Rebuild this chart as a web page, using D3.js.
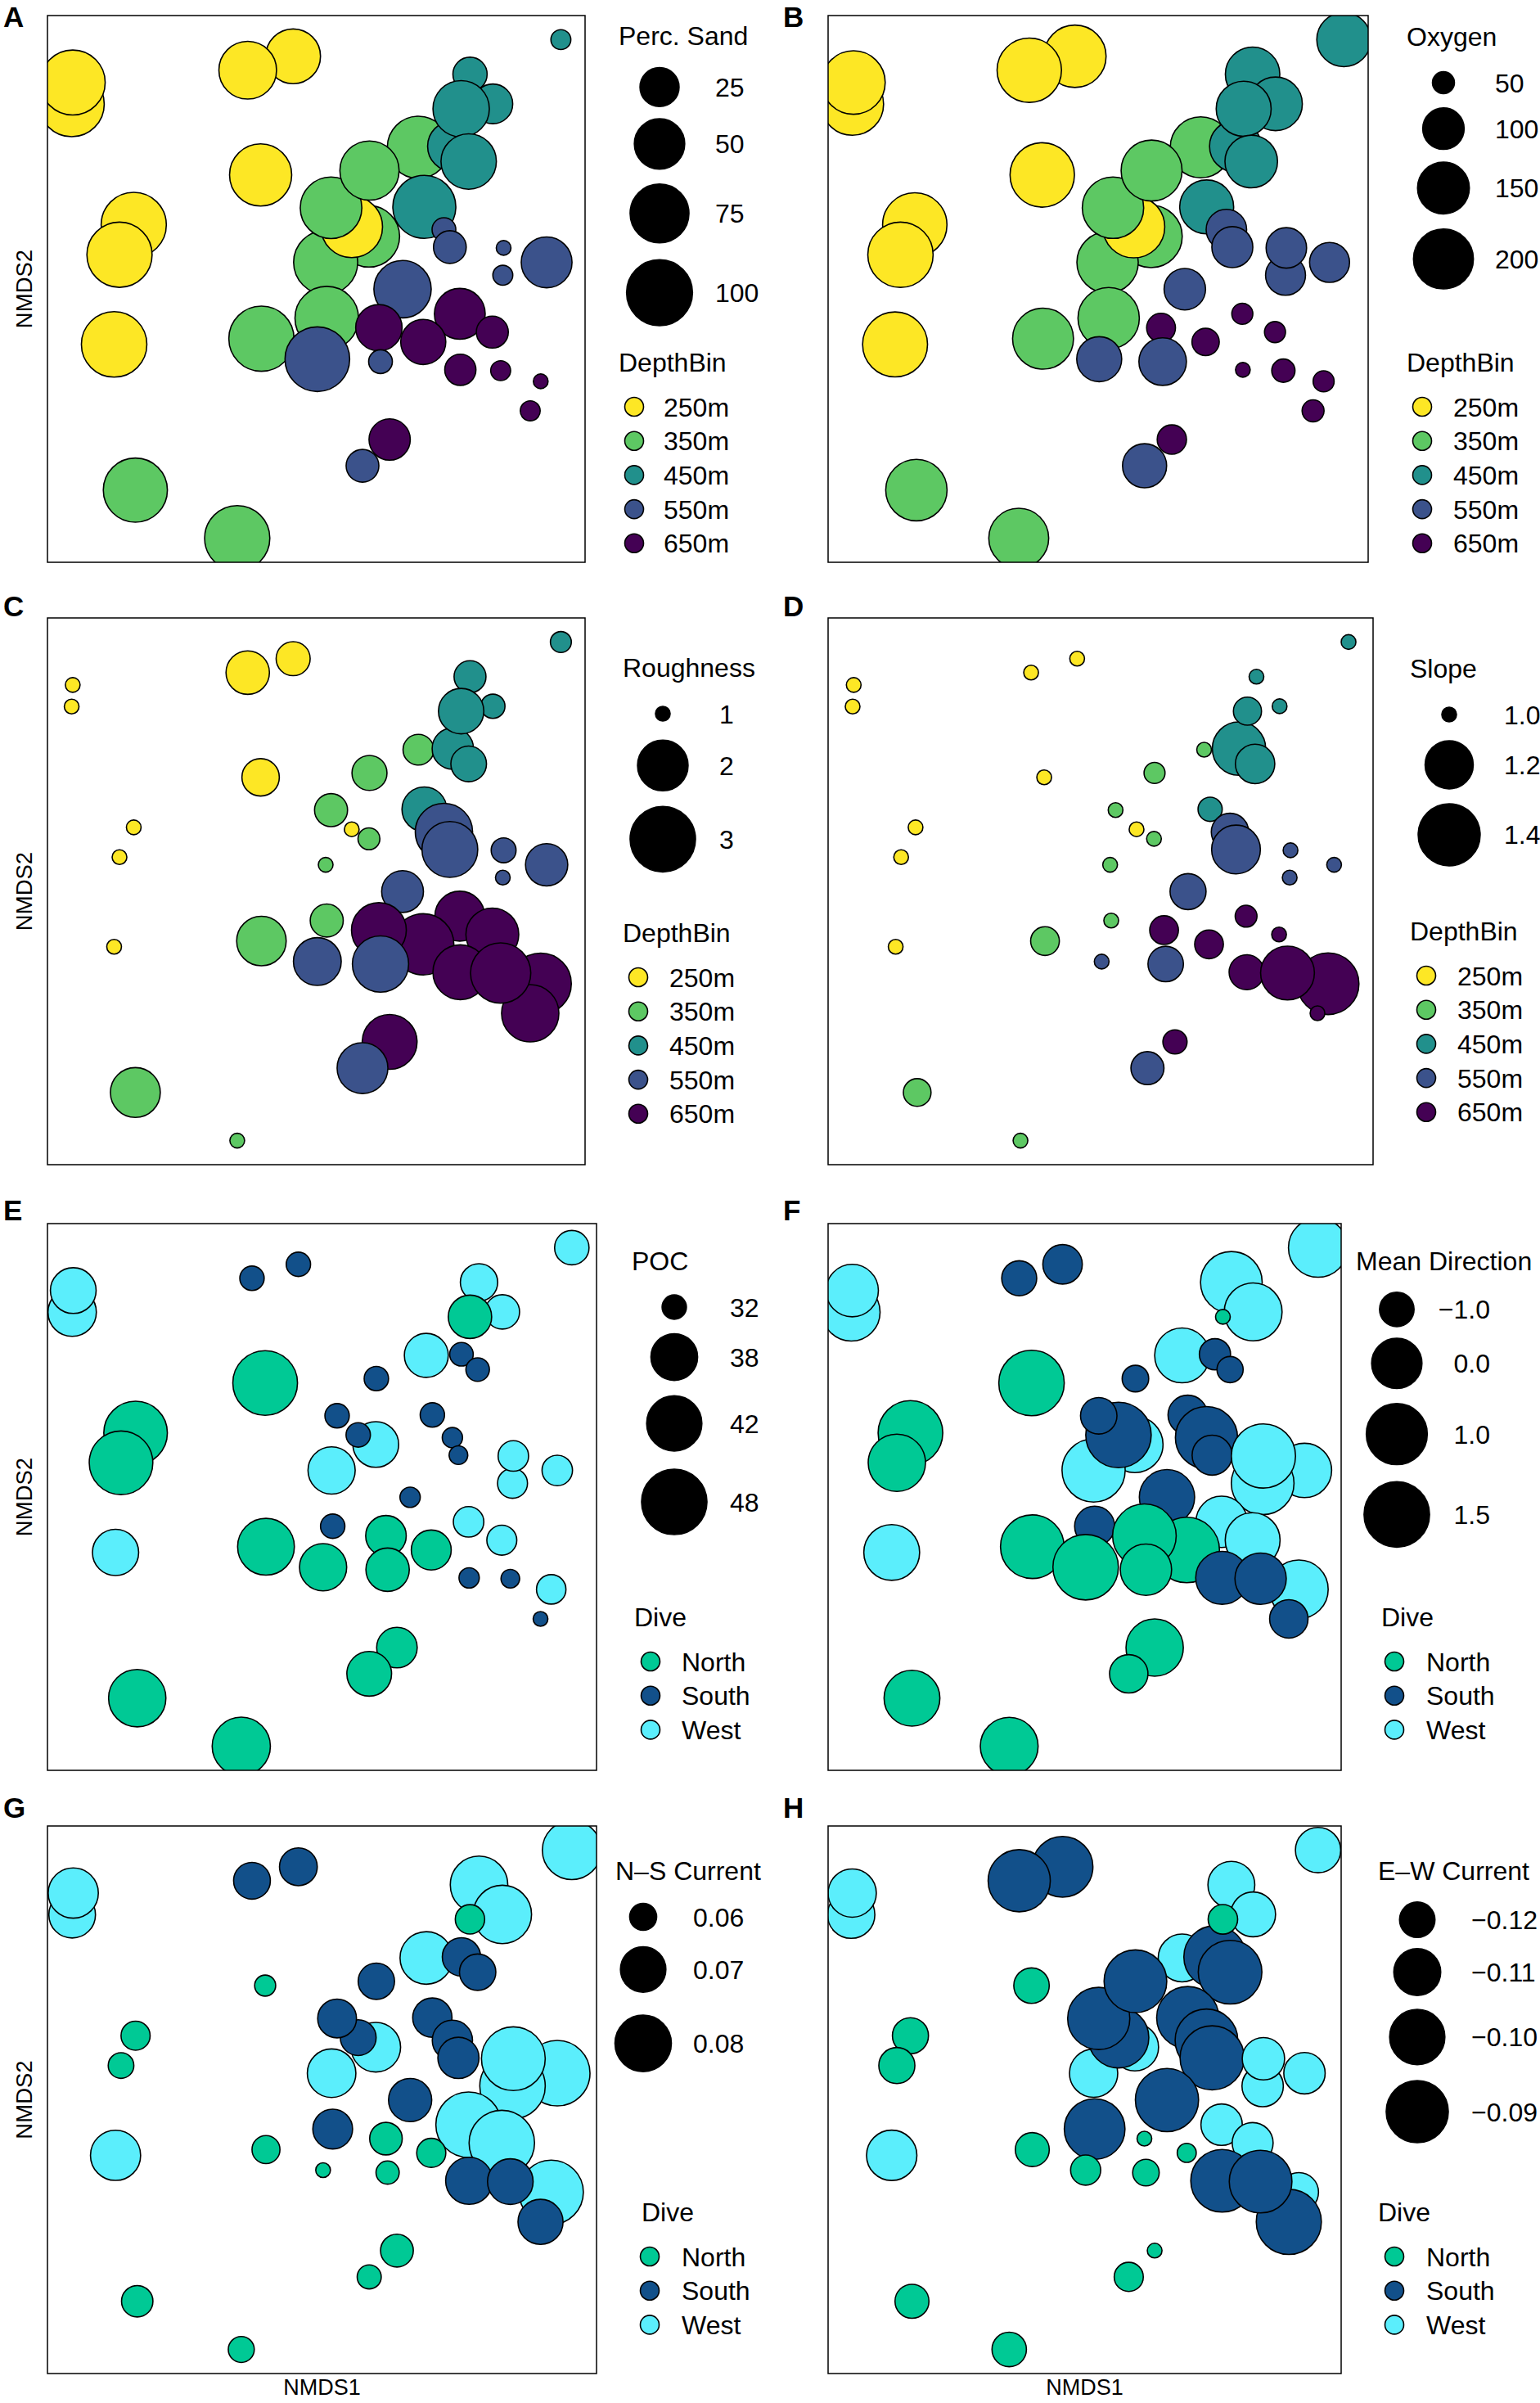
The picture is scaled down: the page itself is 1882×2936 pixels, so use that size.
<!DOCTYPE html>
<html>
<head>
<meta charset="utf-8">
<script src="https://cdn.jsdelivr.net/npm/d3@7"></script>
<style>
  body { margin: 0; background: #fff; }
  svg { display: block; }
  text { font-family: "Liberation Sans", Arial, Helvetica, sans-serif; fill: #000; }
</style>
</head>
<body>
<svg id="chart" width="1882" height="2936"></svg>
<script>
// ---------------- DATA (one entry per sample, in drawing order) ----------------
const nmds1 = [-0.910,-0.906,-0.086,-0.255,-0.207,-0.679,-0.732,-0.752,0.380,0.196,0.035,0.132,0.055,0.198,
  0.572,0.657,0.508,0.539,0.567,0.402,
  0.475,0.497,0.857,0.694,0.697,
  -0.204,0.039,0.321,0.004,
  0.534,0.398,0.233,0.239,
  0.655,0.536,0.835,0.796,0.686,
  0.910,-0.673,-0.294,0.273,0.172];
const nmds2 = [0.676,0.755,0.851,0.800,0.417,0.234,0.125,-0.203,0.518,0.192,0.097,0.227,0.297,0.433,
  0.785,0.677,0.522,0.659,0.466,0.300,
  0.217,0.153,0.097,0.050,0.150,
  -0.182,-0.107,-0.001,-0.257,
  -0.091,-0.194,-0.142,-0.266,
  -0.158,-0.296,-0.338,-0.446,-0.299,
  0.912,-0.736,-0.912,-0.551,-0.647];
const depthBin = [250,250,250,250,250,250,250,250,350,350,350,250,350,350,
  450,450,450,450,450,450,
  550,550,550,550,550,
  350,350,550,550,
  650,650,650,550,
  650,650,650,650,650,
  450,350,350,650,550];
const dive = ["West","West","South","South","North","North","North","West","West","West","West","South","South","South",
  "West","West","South","North","South","South",
  "South","South","West","West","West",
  "North","South","South","North",
  "West","North","North","North",
  "West","South","West","South","South",
  "West","North","North","North","North"];
const percSand = [97,96,62,71,86,97,97,98,86,83,93,84,84,76,
  17,26,50,67,64,89,
  6,15,51,4,3,
  97,91,70,95,
  51,37,40,6,
  14,13,3,4,4,
  4,93,97,29,15];
const oxygen = [217,225,217,232,232,232,239,236,207,217,210,214,210,207,
  165,160,148,168,154,162,
  96,98,94,94,96,
  207,210,100,115,
  49,58,61,127,
  49,46,49,50,51.5,
  163,210,200,62,111];
const roughness = [1.00,1.00,1.29,1.64,1.40,1.00,1.00,1.00,1.20,1.04,1.00,1.00,1.26,1.32,
  1.23,1.07,1.55,1.73,1.34,1.70,
  2.41,2.31,1.59,1.00,1.08,
  1.94,1.26,1.57,1.85,
  1.96,2.68,2.25,2.34,
  2.13,2.25,2.68,2.41,2.61,
  1.03,1.96,1.00,2.25,2.01];
const slope = [1.000,1.000,1.000,1.000,1.000,1.000,1.000,1.000,1.000,1.000,1.000,1.000,1.000,1.007,
  1.000,1.000,1.267,1.032,1.109,1.016,
  1.092,1.207,1.000,1.000,1.000,
  1.035,1.000,1.081,1.000,
  1.009,1.035,1.035,1.077,
  1.000,1.074,1.394,1.000,1.273,
  1.000,1.030,1.000,1.016,1.060];
const poc = [38.7,37.6,32.0,32.0,47.5,46.8,46.8,37.8,36.9,37.6,38.2,32.0,32.0,32.0,
  34.7,33.9,31.9,36.7,31.9,32.0,
  31.6,31.5,33.0,32.9,33.0,
  42.8,32.0,31.6,38.2,
  33.0,35.5,35.7,36.7,
  32.9,31.6,32.8,31.4,31.5,
  33.9,43.1,43.6,35.7,37.2];
const meanDirection = [0.67,0.17,-0.75,-0.98,1.49,1.40,0.62,0.48,0.39,0.52,1.23,1.49,-0.91,-1.29,
  1.07,0.67,-1.14,-1.45,-1.30,-0.75,
  1.12,-0.72,0.34,1.18,1.34,
  1.28,-0.72,0.43,1.49,
  0.08,1.49,1.28,0.08,
  0.39,0.21,0.76,-0.81,0.08,
  0.81,0.48,0.67,0.62,-0.81];
const nsCurrent = [0.0709,0.0739,0.0648,0.0642,0.0586,0.0607,0.0596,0.0739,0.0761,0.0734,0.0725,0.0637,0.0654,0.0640,
  0.0811,0.0821,0.0651,0.0608,0.0640,0.0657,
  0.0663,0.0669,0.0905,0.0905,0.0884,
  0.0603,0.0660,0.0683,0.0581,
  0.0905,0.0607,0.0621,0.0590,
  0.0905,0.0712,0.0890,0.0697,0.0701,
  0.0827,0.0616,0.0597,0.0622,0.0592];
const ewCurrent = [-0.1096,-0.1086,-0.0923,-0.0900,-0.1200,-0.1196,-0.1196,-0.1062,-0.1091,-0.1096,-0.1086,-0.0923,-0.0900,-0.0892,
  -0.1101,-0.1122,-0.0900,-0.1235,-0.0877,-0.0900,
  -0.0892,-0.0869,-0.1154,-0.1154,-0.1145,
  -0.1210,-0.0923,-0.0884,-0.1232,
  -0.1154,-0.1268,-0.1271,-0.1248,
  -0.1158,-0.0892,-0.1171,-0.0853,-0.0892,
  -0.1117,-0.1210,-0.1207,-0.1271,-0.1237];

// legend breaks / labels and size-scale limits
const sandBreaks = [25,50,75,100],        sandLabels = ["25","50","75","100"],       sandLimits = [3,98];
const oxyBreaks = [50,100,150,200],        oxyLabels = ["50","100","150","200"],      oxyLimits = [46,240];
const roughBreaks = [1,2,3],               roughLabels = ["1","2","3"],               roughLimits = [1,3];
const slopeBreaks = [1.0,1.2,1.4],         slopeLabels = ["1.0","1.2","1.4"],         slopeLimits = [1.0,1.46];
const pocBreaks = [32,38,42,48],           pocLabels = ["32","38","42","48"],         pocLimits = [31.4,48];
const dirBreaks = [-1.0,0.0,1.0,1.5],      dirLabels = ["\u22121.0","0.0","1.0","1.5"], dirLimits = [-1.45,1.49];
const nsBreaks = [0.06,0.07,0.08],         nsLabels = ["0.06","0.07","0.08"],         nsLimits = [0.0581,0.0905];
const ewBreaks = [-0.12,-0.11,-0.10,-0.09], ewLabels = ["\u22120.12","\u22120.11","\u22120.10","\u22120.09"], ewLimits = [-0.1271,-0.0847];

const depthLevels = [250,350,450,550,650];
const depthLabels = ["250m","350m","450m","550m","650m"];
const depthColors = ["#FDE725","#5DC863","#21908C","#3B528B","#440154"];
const diveLevels = ["North","South","West"];
const diveColors = ["#00C995","#12508A","#5BEEFC"];
const nmdsLimits = [-1, 1];

// ---------------- LAYOUT ----------------
const panels = [
  {id:"A", box:[58,19,715,687],    title:"Perc. Sand", values:percSand, breaks:sandBreaks, labels:sandLabels, limits:sandLimits, group:"depth",
   lab:[4,33], yTitle:true, xTitle:false,
   sz:{tx:756, ty:55, kdx:50, ldx:68, k:1.27}, cat:{tx:756, ty:454, kdx:19, ldx:55}},
  {id:"B", box:[1012,19,1672,687], title:"Oxygen", values:oxygen, breaks:oxyBreaks, labels:oxyLabels, limits:oxyLimits, group:"depth",
   lab:[957,33], yTitle:false, xTitle:false,
   sz:{tx:1719, ty:56, kdx:45, ldx:63, k:1.27}, cat:{tx:1719, ty:454, kdx:19, ldx:57}},
  {id:"C", box:[58,755,715,1423],  title:"Roughness", values:roughness, breaks:roughBreaks, labels:roughLabels, limits:roughLimits, group:"depth",
   lab:[4,753], yTitle:true, xTitle:false,
   sz:{tx:761, ty:827, kdx:49, ldx:69, k:1.27}, cat:{tx:761, ty:1151, kdx:19, ldx:57}},
  {id:"D", box:[1012,755,1678,1423], title:"Slope", values:slope, breaks:slopeBreaks, labels:slopeLabels, limits:slopeLimits, group:"depth",
   lab:[957,753], yTitle:false, xTitle:false,
   sz:{tx:1723, ty:828, kdx:48, ldx:67, k:1.27}, cat:{tx:1723, ty:1149, kdx:20, ldx:58}},
  {id:"E", box:[58,1495,729,2163], title:"POC", values:poc, breaks:pocBreaks, labels:pocLabels, limits:pocLimits, group:"dive",
   lab:[4,1491], yTitle:true, xTitle:false,
   sz:{tx:772, ty:1552, kdx:52, ldx:68, k:1.3}, cat:{tx:775, ty:1987, kdx:20, ldx:58}},
  {id:"F", box:[1012,1495,1639,2163], title:"Mean Direction", values:meanDirection, breaks:dirBreaks, labels:dirLabels, limits:dirLimits, group:"dive",
   lab:[957,1491], yTitle:false, xTitle:false,
   sz:{tx:1657, ty:1552, kdx:50, ldx:69, k:1.27, align:"end", labW:45}, cat:{tx:1688, ty:1987, kdx:16, ldx:55}},
  {id:"G", box:[58,2231,729,2900], title:"N\u2013S Current", values:nsCurrent, breaks:nsBreaks, labels:nsLabels, limits:nsLimits, group:"dive",
   lab:[4,2221], yTitle:true, xTitle:true,
   sz:{tx:752, ty:2297, kdx:34, ldx:61, k:1.45}, cat:{tx:784, ty:2714, kdx:10, ldx:49}},
  {id:"H", box:[1012,2231,1639,2900], title:"E\u2013W Current", values:ewCurrent, breaks:ewBreaks, labels:ewLabels, limits:ewLimits, group:"dive",
   lab:[957,2221], yTitle:false, xTitle:true,
   sz:{tx:1684, ty:2297, kdx:48, ldx:66, k:1.27}, cat:{tx:1684, ty:2714, kdx:20, ldx:59}}
];

const RMIN = 9, RMAX = 40, FS = 32;
const depthColor = d3.scaleOrdinal().domain(depthLevels).range(depthColors);
const diveColor = d3.scaleOrdinal().domain(diveLevels).range(diveColors);

// ggplot-like area palette: radius linear in sqrt of rescaled value
function sizeScale(limits) {
  const t = d3.scaleLinear().domain(limits);
  const r = d3.scaleLinear().domain([0, 1]).range([RMIN, RMAX]);
  return v => r(Math.sqrt(Math.max(0, t(v))));
}

const svg = d3.select("#chart");
const defs = svg.append("defs");
const idx = d3.range(nmds1.length);

panels.forEach(p => {
  const [x0, y0, x1, y1] = p.box;
  const x = d3.scaleLinear().domain(nmdsLimits).range([x0, x1]);
  const y = d3.scaleLinear().domain(nmdsLimits).range([y1, y0]);
  const rs = sizeScale(p.limits);
  const color = p.group === "depth" ? depthColor : diveColor;
  const grp = p.group === "depth" ? depthBin : dive;

  defs.append("clipPath").attr("id", "clip" + p.id)
    .append("rect").attr("x", x0).attr("y", y0).attr("width", x1 - x0).attr("height", y1 - y0);

  const g = svg.append("g");
  g.append("g").attr("clip-path", `url(#clip${p.id})`)
    .selectAll("circle").data(idx).join("circle")
    .attr("cx", i => x(nmds1[i]))
    .attr("cy", i => y(nmds2[i]))
    .attr("r", i => rs(p.values[i]))
    .attr("fill", i => color(grp[i]))
    .attr("stroke", "#000")
    .attr("stroke-width", 1.6);

  g.append("rect").attr("x", x0).attr("y", y0).attr("width", x1 - x0).attr("height", y1 - y0)
    .attr("fill", "none").attr("stroke", "#000").attr("stroke-width", 1.5);

  // panel letter
  g.append("text").attr("x", p.lab[0]).attr("y", p.lab[1])
    .attr("font-size", 35).attr("font-weight", "bold").text(p.id);

  // axis titles
  if (p.yTitle) {
    g.append("text").attr("transform", `translate(39,${(y0 + y1) / 2}) rotate(-90)`)
      .attr("text-anchor", "middle").attr("font-size", 27.5).text("NMDS2");
  }
  if (p.xTitle) {
    g.append("text").attr("x", (x0 + x1) / 2).attr("y", 2926)
      .attr("text-anchor", "middle").attr("font-size", 27).text("NMDS1");
  }

  // size legend
  const s = p.sz;
  g.append("text").attr("x", s.tx).attr("y", s.ty).attr("font-size", FS).text(p.title);
  let cy = s.ty + 21, prev = 0;
  p.breaks.forEach((b, i) => {
    const r = rs(b);
    const h = Math.max(s.k * r, 24);
    cy += prev + h;
    prev = h;
    g.append("circle").attr("cx", s.tx + s.kdx).attr("cy", cy).attr("r", r)
      .attr("fill", "#000").attr("stroke", "#000").attr("stroke-width", 1.6);
    const t = g.append("text").attr("y", cy).attr("dy", "0.36em").attr("font-size", FS).text(p.labels[i]);
    if (s.align === "end") t.attr("x", s.tx + s.kdx + s.ldx + s.labW).attr("text-anchor", "end");
    else t.attr("x", s.tx + s.kdx + s.ldx);
  });

  // categorical legend
  const c = p.cat;
  const levels = p.group === "depth" ? depthLevels : diveLevels;
  const names = p.group === "depth" ? depthLabels : diveLevels;
  g.append("text").attr("x", c.tx).attr("y", c.ty).attr("font-size", FS)
    .text(p.group === "depth" ? "DepthBin" : "Dive");
  levels.forEach((lv, i) => {
    const ky = c.ty + 43 + i * 41.7;
    g.append("circle").attr("cx", c.tx + c.kdx).attr("cy", ky).attr("r", 11.5)
      .attr("fill", color(lv)).attr("stroke", "#000").attr("stroke-width", 1.6);
    g.append("text").attr("x", c.tx + c.ldx).attr("y", ky).attr("dy", "0.36em")
      .attr("font-size", FS).text(names[i]);
  });
});
</script>
</body>
</html>
